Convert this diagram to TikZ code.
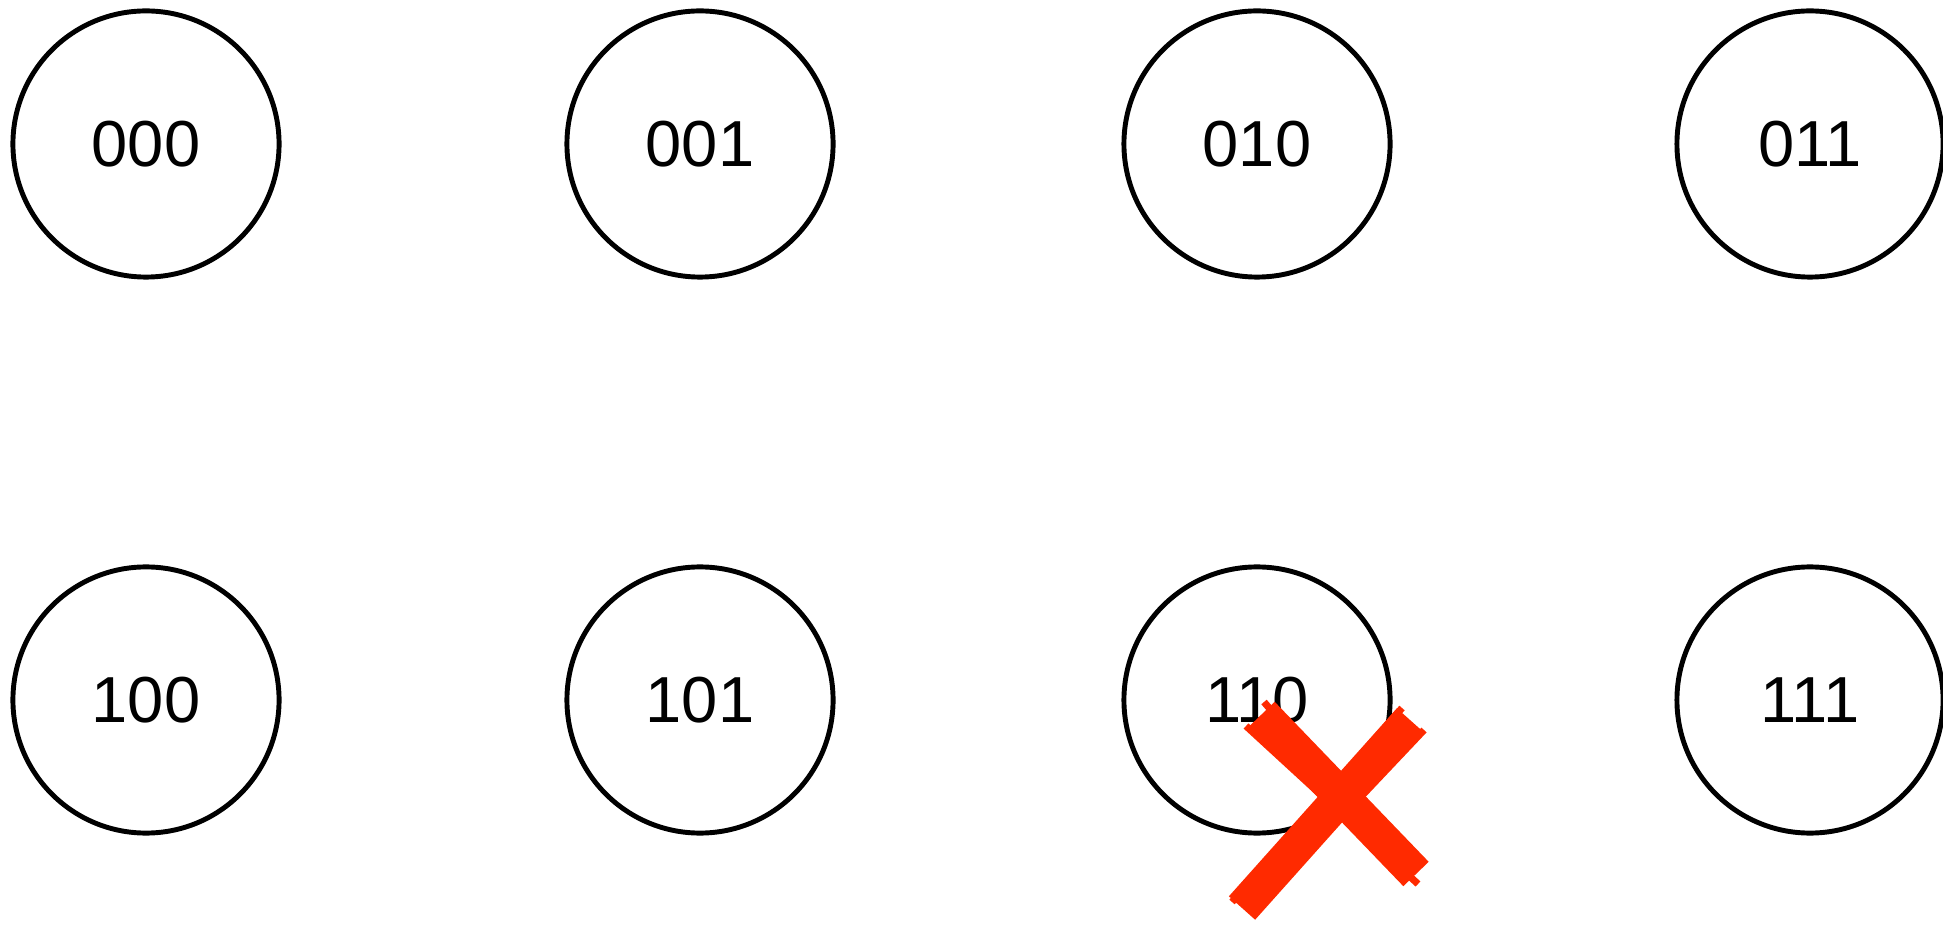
\documentclass[tikz,border=0pt]{standalone}
\usepackage{fontspec}
\setmainfont{Liberation Sans}
\definecolor{crossred}{HTML}{FF2A00}

\begin{document}
\begin{tikzpicture}[x=0.01cm, y=0.01cm, line width=1.4pt,
    state/.style={draw, circle, minimum size=2.66cm, inner sep=0pt,
      font=\fontsize{18.5pt}{20pt}\selectfont},
    scribble/.style={crossred, line cap=butt}]
  \useasboundingbox (0,0) rectangle (1943,924);
  % top row
  \node[state] (n000) at (146,780) {000};
  \node[state] (n001) at (700,780) {001};
  \node[state] (n010) at (1257,780) {010};
  \node[state] (n011) at (1810,780) {011};
  % bottom row
  \node[state] (n100) at (146,224) {100};
  \node[state] (n101) at (700,224) {101};
  \node[state] (n110) at (1257,224) {110};
  \node[state] (n111) at (1810,224) {111};
  % red cross over 110
  \draw[scribble, line width=10pt] (1262,210) -- (1416,50);
  \draw[scribble, line width=2pt] (1246,198) -- (1418,40);
  \draw[scribble, line width=2pt] (1264,222) -- (1406,56);
  \draw[scribble, line width=10pt] (1410,204) -- (1242,16);
  \draw[scribble, line width=2pt] (1424,194) -- (1250,10);
  \draw[scribble, line width=2pt] (1402,216) -- (1232,22);
\end{tikzpicture}
\end{document}
